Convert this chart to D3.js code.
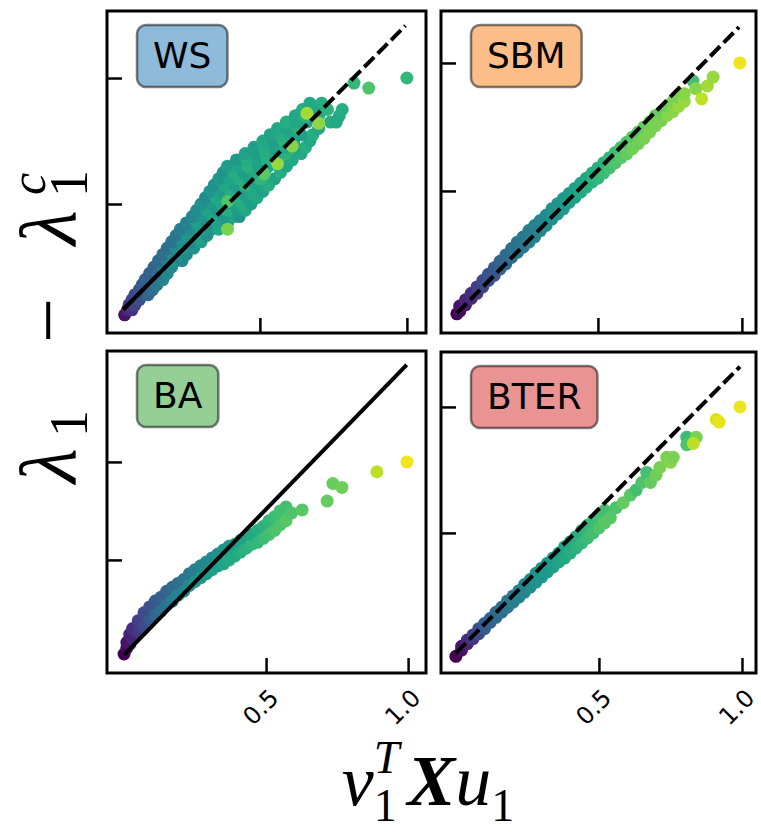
<!DOCTYPE html>
<html><head><meta charset="utf-8">
<script src="https://cdn.jsdelivr.net/npm/d3@7"></script>
<style>body{margin:0;background:#fff}</style>
</head><body>
<svg id="chart" width="761" height="833"></svg>
<script>
// ---------- data (x = v1^T X u1, y = lambda1 - lambda1^c, c = colour value) ----------
const xTicks = [0.5, 1.0];
const xTickLabels = ["0.5", "1.0"];
const yTicks = [0.5, 1.0];
const panelNames = ["WS", "SBM", "BA", "BTER"];

const wsPoints = [
 [0.040,0.060,0.05],
 [0.050,0.080,0.10],[0.065,0.080,0.14],
 [0.055,0.100,0.16],[0.075,0.100,0.20],
 [0.065,0.120,0.20],[0.090,0.120,0.24],
 [0.075,0.140,0.22],[0.100,0.140,0.28],[0.120,0.140,0.32],
 [0.090,0.160,0.26],[0.115,0.160,0.32],[0.135,0.160,0.36],
 [0.100,0.180,0.28],[0.125,0.180,0.34],[0.150,0.180,0.40],
 [0.110,0.200,0.30],[0.140,0.200,0.38],[0.170,0.200,0.44],
 [0.125,0.225,0.30],[0.155,0.225,0.40],[0.185,0.225,0.46],
 [0.140,0.250,0.32],[0.170,0.250,0.42],[0.200,0.250,0.48],
 [0.155,0.275,0.34],[0.185,0.275,0.44],[0.215,0.275,0.50],[0.235,0.275,0.46],
 [0.170,0.300,0.36],[0.200,0.300,0.46],[0.230,0.300,0.52],[0.250,0.300,0.48],
 [0.185,0.325,0.36],[0.215,0.325,0.48],[0.245,0.325,0.54],[0.275,0.325,0.50],
 [0.200,0.350,0.38],[0.235,0.350,0.50],[0.265,0.350,0.46],[0.300,0.350,0.56],
 [0.215,0.375,0.40],[0.250,0.375,0.52],[0.285,0.375,0.58],[0.320,0.375,0.50],
 [0.230,0.400,0.42],[0.265,0.400,0.48],[0.300,0.400,0.56],[0.335,0.400,0.52],[0.360,0.400,0.60],
 [0.250,0.425,0.44],[0.285,0.425,0.56],[0.320,0.425,0.50],[0.355,0.425,0.58],[0.390,0.425,0.54],
 [0.270,0.450,0.46],[0.305,0.450,0.52],[0.340,0.450,0.60],[0.375,0.450,0.54],[0.410,0.450,0.58],[0.430,0.450,0.52],
 [0.285,0.475,0.48],[0.320,0.475,0.58],[0.355,0.475,0.52],[0.390,0.475,0.62],[0.425,0.475,0.55],[0.450,0.475,0.60],
 [0.300,0.500,0.50],[0.335,0.500,0.54],[0.370,0.500,0.60],[0.405,0.500,0.56],[0.440,0.500,0.62],[0.470,0.500,0.56],
 [0.315,0.525,0.48],[0.350,0.525,0.60],[0.385,0.525,0.55],[0.420,0.525,0.64],[0.455,0.525,0.57],[0.490,0.525,0.60],
 [0.330,0.550,0.52],[0.365,0.550,0.56],[0.400,0.550,0.62],[0.435,0.550,0.55],[0.470,0.550,0.60],[0.510,0.550,0.58],
 [0.345,0.575,0.50],[0.380,0.575,0.60],[0.415,0.575,0.56],[0.450,0.575,0.64],[0.485,0.575,0.58],[0.530,0.575,0.62],
 [0.360,0.600,0.54],[0.395,0.600,0.58],[0.430,0.600,0.62],[0.465,0.600,0.56],[0.500,0.600,0.66],[0.550,0.600,0.58],
 [0.375,0.625,0.52],[0.410,0.625,0.62],[0.445,0.625,0.56],[0.480,0.625,0.60],[0.515,0.625,0.56],[0.570,0.625,0.62],
 [0.390,0.650,0.56],[0.425,0.650,0.58],[0.460,0.650,0.64],[0.495,0.650,0.56],[0.530,0.650,0.60],[0.565,0.650,0.62],[0.590,0.650,0.58],
 [0.420,0.675,0.54],[0.455,0.675,0.62],[0.490,0.675,0.58],[0.525,0.675,0.64],[0.560,0.675,0.56],[0.610,0.675,0.60],
 [0.450,0.700,0.58],[0.485,0.700,0.56],[0.520,0.700,0.62],[0.555,0.700,0.58],[0.590,0.700,0.64],[0.640,0.700,0.60],
 [0.480,0.725,0.56],[0.515,0.725,0.62],[0.550,0.725,0.58],[0.585,0.725,0.60],[0.620,0.725,0.56],[0.655,0.725,0.62],
 [0.510,0.750,0.60],[0.545,0.750,0.56],[0.580,0.750,0.64],[0.615,0.750,0.58],[0.670,0.750,0.60],
 [0.535,0.775,0.58],[0.570,0.775,0.62],[0.605,0.775,0.60],[0.640,0.775,0.56],[0.680,0.775,0.62],
 [0.560,0.800,0.60],[0.595,0.800,0.58],[0.630,0.800,0.64],[0.700,0.800,0.60],
 [0.590,0.825,0.62],[0.625,0.825,0.60],[0.660,0.825,0.58],[0.740,0.825,0.62],[0.760,0.825,0.60],
 [0.620,0.850,0.60],[0.655,0.850,0.64],[0.700,0.850,0.62],[0.770,0.850,0.60],
 [0.645,0.875,0.62],[0.690,0.875,0.60],[0.730,0.875,0.64],[0.780,0.875,0.62],
 [0.670,0.900,0.60],[0.710,0.900,0.62],
 [0.390,0.510,0.72],[0.560,0.660,0.84],[0.610,0.730,0.82],[0.390,0.400,0.80],[0.700,0.820,0.83],
 [0.660,0.860,0.86],[0.515,0.620,0.74],
 [0.820,0.980,0.66],[0.870,0.960,0.72],[1.000,1.000,0.66]
];

const sbmPoints = [
 [0.01,0.02,0.0],[0.02,0.03,0.03],[0.02,0.05,0.05],[0.04,0.055,0.08],[0.04,0.075,0.1],
 [0.06,0.08,0.12],[0.06,0.10,0.14],[0.08,0.10,0.16],[0.08,0.125,0.18],[0.10,0.125,0.2],[0.10,0.15,0.22],
 [0.12,0.15,0.24],[0.12,0.175,0.25],[0.14,0.17,0.27],[0.14,0.20,0.28],[0.16,0.195,0.3],[0.16,0.225,0.31],
 [0.18,0.215,0.33],[0.18,0.25,0.34],[0.20,0.24,0.35],[0.20,0.275,0.36],[0.22,0.26,0.38],[0.22,0.30,0.38],
 [0.24,0.28,0.4],[0.24,0.32,0.4],[0.26,0.30,0.42],[0.26,0.345,0.42],[0.28,0.32,0.44],[0.28,0.365,0.44],
 [0.30,0.345,0.46],[0.30,0.385,0.46],[0.32,0.365,0.48],[0.32,0.405,0.48],[0.34,0.39,0.5],[0.34,0.43,0.5],
 [0.36,0.41,0.52],[0.36,0.45,0.52],[0.38,0.43,0.54],[0.38,0.47,0.54],[0.40,0.455,0.56],[0.40,0.49,0.55],
 [0.42,0.475,0.58],[0.42,0.51,0.57],[0.44,0.495,0.6],[0.44,0.53,0.58],[0.46,0.515,0.62],[0.46,0.55,0.6],
 [0.48,0.535,0.64],[0.48,0.57,0.62],[0.50,0.55,0.66],[0.50,0.59,0.63],[0.52,0.57,0.68],[0.52,0.61,0.64],
 [0.54,0.59,0.7],[0.54,0.63,0.66],[0.56,0.61,0.72],[0.56,0.65,0.68],[0.58,0.63,0.74],[0.58,0.67,0.7],
 [0.60,0.645,0.76],[0.60,0.69,0.72],[0.62,0.665,0.78],[0.62,0.71,0.74],[0.64,0.685,0.78],[0.64,0.73,0.74],
 [0.66,0.705,0.8],[0.66,0.75,0.76],[0.68,0.73,0.8],[0.68,0.77,0.78],[0.70,0.755,0.8],[0.70,0.795,0.78],
 [0.72,0.775,0.8],[0.72,0.81,0.76],[0.74,0.795,0.82],[0.74,0.83,0.78],[0.76,0.81,0.82],[0.76,0.85,0.8],
 [0.78,0.83,0.84],[0.78,0.865,0.8],[0.80,0.85,0.84],[0.80,0.88,0.82],
 [0.83,0.93,0.7],[0.84,0.90,0.82],[0.86,0.86,0.9],[0.88,0.91,0.86],[0.90,0.945,0.84],[0.993,1.0,0.97]
];

const baPoints = [
 [0.00,0.02,0.0],[0.01,0.05,0.03],[0.01,0.08,0.05],[0.02,0.07,0.06],[0.02,0.12,0.1],
 [0.03,0.10,0.1],[0.03,0.15,0.14],[0.05,0.13,0.16],[0.05,0.19,0.18],[0.07,0.16,0.22],[0.07,0.23,0.22],
 [0.09,0.19,0.28],[0.09,0.26,0.25],[0.11,0.22,0.32],[0.11,0.29,0.28],[0.13,0.24,0.36],[0.13,0.31,0.3],
 [0.15,0.27,0.38],[0.15,0.34,0.32],[0.17,0.29,0.42],[0.17,0.36,0.34],[0.19,0.32,0.44],[0.19,0.38,0.36],
 [0.21,0.34,0.46],[0.21,0.40,0.38],[0.23,0.37,0.48],[0.23,0.43,0.4],[0.25,0.39,0.5],[0.25,0.45,0.42],
 [0.27,0.41,0.52],[0.27,0.47,0.45],[0.29,0.43,0.54],[0.29,0.49,0.47],[0.31,0.45,0.56],[0.31,0.51,0.49],
 [0.33,0.47,0.56],[0.33,0.53,0.5],[0.35,0.48,0.58],[0.35,0.55,0.52],[0.37,0.50,0.6],[0.37,0.57,0.53],
 [0.39,0.52,0.6],[0.39,0.58,0.55],[0.41,0.54,0.62],[0.41,0.60,0.56],[0.43,0.56,0.64],[0.43,0.61,0.58],
 [0.45,0.58,0.66],[0.45,0.63,0.6],[0.47,0.59,0.66],[0.47,0.65,0.62],[0.49,0.61,0.68],[0.49,0.67,0.64],
 [0.51,0.63,0.7],[0.51,0.70,0.66],[0.53,0.65,0.72],[0.53,0.72,0.68],[0.55,0.68,0.72],[0.55,0.75,0.7],
 [0.57,0.70,0.74],[0.57,0.77,0.7],[0.59,0.74,0.72],[0.627,0.755,0.74],[0.715,0.80,0.76],
 [0.735,0.89,0.77],[0.767,0.87,0.78],[0.89,0.95,0.9],[0.996,1.0,0.98]
];

const bterPoints = [
 [0.00,0.01,0.0],[0.02,0.035,0.04],[0.02,0.05,0.06],[0.04,0.06,0.1],[0.04,0.075,0.12],
 [0.06,0.08,0.16],[0.06,0.095,0.18],[0.08,0.10,0.22],[0.08,0.12,0.24],[0.10,0.12,0.28],[0.10,0.14,0.28],
 [0.12,0.145,0.3],[0.12,0.16,0.32],[0.14,0.165,0.34],[0.14,0.185,0.34],[0.16,0.185,0.36],[0.16,0.205,0.37],
 [0.18,0.205,0.4],[0.18,0.23,0.4],[0.20,0.225,0.42],[0.20,0.25,0.42],[0.22,0.245,0.44],[0.22,0.27,0.44],
 [0.24,0.265,0.46],[0.24,0.295,0.46],[0.26,0.285,0.48],[0.26,0.315,0.48],[0.28,0.305,0.5],[0.28,0.34,0.5],
 [0.30,0.325,0.52],[0.30,0.36,0.52],[0.32,0.345,0.54],[0.32,0.38,0.53],[0.34,0.365,0.56],[0.34,0.40,0.55],
 [0.36,0.385,0.58],[0.36,0.42,0.56],[0.38,0.40,0.6],[0.38,0.445,0.58],[0.40,0.42,0.62],[0.40,0.465,0.6],
 [0.42,0.44,0.64],[0.42,0.485,0.62],[0.44,0.46,0.66],[0.44,0.51,0.64],[0.46,0.48,0.68],[0.46,0.53,0.66],
 [0.48,0.50,0.7],[0.48,0.55,0.68],[0.50,0.52,0.72],[0.50,0.57,0.7],[0.52,0.54,0.74],[0.52,0.59,0.7],
 [0.54,0.56,0.74],[0.56,0.60,0.72],[0.585,0.62,0.76],[0.61,0.65,0.74],[0.63,0.67,0.7],[0.65,0.70,0.72],
 [0.667,0.74,0.7],[0.68,0.70,0.76],[0.70,0.73,0.78],[0.713,0.76,0.8],[0.737,0.80,0.8],[0.75,0.78,0.82],
 [0.76,0.80,0.8],[0.807,0.88,0.68],[0.807,0.85,0.72],[0.84,0.88,0.8],[0.83,0.855,0.9],[0.91,0.95,0.94],
 [0.92,0.94,0.96],[0.993,1.0,0.97]
];

// reference lines (endpoints in data units)
const wsDashed = [[0.035,0.081],[0.995,1.208]];
const wsSolid = [[0.035,0.081],[0.33,0.427]];
const sbmDashed = [[0.01,0.022],[0.99,1.14]];
const baSolid = [[0.0,0.015],[0.995,1.495]];
const bterDashed = [[0.0,0.023],[0.993,1.16]];

// ---------- layout ----------
const panels = [
 {name: panelNames[0], pts: wsPoints, dashed: wsDashed, solid: wsSolid, fill: "#8fbbda",
  rect: [107, 11, 426, 333], xd: [-0.020, 1.065], yd: [-0.012, 1.266], labels: false},
 {name: panelNames[1], pts: sbmPoints, dashed: sbmDashed, solid: null, fill: "#fdbd88",
  rect: [441, 11, 756, 333], xd: [-0.045, 1.049], yd: [-0.055, 1.203], labels: false},
 {name: panelNames[2], pts: baPoints, dashed: null, solid: baSolid, fill: "#95cf95",
  rect: [107, 351, 426, 673], xd: [-0.060, 1.063], yd: [-0.077, 1.566], labels: true},
 {name: panelNames[3], pts: bterPoints, dashed: bterDashed, solid: null, fill: "#ea9393",
  rect: [441, 352, 756, 673], xd: [-0.052, 1.049], yd: [-0.056, 1.218], labels: true}
];

const svg = d3.select("#chart");
svg.append("rect").attr("width", 761).attr("height", 833).attr("fill", "#fff");

panels.forEach(p => {
  const [x0, y0, x1, y1] = p.rect;
  const x = d3.scaleLinear().domain(p.xd).range([x0, x1]);
  const y = d3.scaleLinear().domain(p.yd).range([y1, y0]);
  const g = svg.append("g");

  g.append("g").selectAll("circle").data(p.pts).join("circle")
    .attr("cx", d => x(d[0])).attr("cy", d => y(d[1])).attr("r", 6.5)
    .attr("fill", d => d3.interpolateViridis(d[2]));

  const line = d3.line().x(d => x(d[0])).y(d => y(d[1]));
  if (p.solid) g.append("path").attr("d", line(p.solid)).attr("fill", "none")
     .attr("stroke", "#000").attr("stroke-width", 4);
  if (p.dashed) g.append("path").attr("d", line(p.dashed)).attr("fill", "none")
     .attr("stroke", "#000").attr("stroke-width", 4).attr("stroke-dasharray", "14,5");

  // axes: inward ticks
  const ax = g.append("g").attr("transform", `translate(0,${y1})`)
    .call(d3.axisBottom(x).tickValues(xTicks).tickSizeInner(-15).tickSizeOuter(0)
      .tickFormat((d, i) => xTickLabels[i]));
  ax.select(".domain").remove();
  ax.selectAll("line").attr("stroke", "#000").attr("stroke-width", 2.5);
  if (p.labels) {
    ax.selectAll("text").attr("y", 0).attr("dy", "0.35em")
      .attr("transform", "translate(-6,34) rotate(-45)")
      .attr("text-anchor", "middle").attr("fill", "#000")
      .style("font-family", "DejaVu Sans").style("font-size", "24px");
  } else {
    ax.selectAll("text").remove();
  }
  const ay = g.append("g").attr("transform", `translate(${x0},0)`)
    .call(d3.axisLeft(y).tickValues(yTicks).tickSizeInner(-15).tickSizeOuter(0).tickFormat(""));
  ay.select(".domain").remove();
  ay.selectAll("line").attr("stroke", "#000").attr("stroke-width", 2.5);

  g.append("rect").attr("x", x0).attr("y", y0).attr("width", x1 - x0).attr("height", y1 - y0)
    .attr("fill", "none").attr("stroke", "#000").attr("stroke-width", 3);

  // label box
  const lg = g.append("g");
  const t = lg.append("text").text(p.name).attr("font-family", "DejaVu Sans")
    .attr("font-size", 36).attr("fill", "#000");
  const tw = t.node().getComputedTextLength();
  const bx = x0 + 30, by = y0 + 14, bw = tw + 32, bh = 62;
  lg.insert("rect", "text").attr("x", bx).attr("y", by).attr("width", bw).attr("height", bh)
    .attr("rx", 9).attr("fill", p.fill).attr("stroke", "rgba(0,0,0,0.5)").attr("stroke-width", 2.5);
  t.attr("x", bx + 16).attr("y", by + bh / 2 + 12);
});

// axis titles: y label built from separate glyph pieces in a rotated group
const yg = svg.append("g").attr("transform", "translate(75,483) rotate(-90)")
  .attr("font-family", "Liberation Serif").attr("fill", "#000");
const yParts = [
  {t: "λ", x: 0, y: 0, s: 80, it: true},
  {t: "1", x: 46, y: 12, s: 54, it: false},
  {t: "−", x: 140, y: 0, s: 80, it: false},
  {t: "λ", x: 238, y: 0, s: 80, it: true},
  {t: "1", x: 286, y: 12, s: 54, it: false},
  {t: "c", x: 288, y: -30, s: 50, it: true}
];
yParts.forEach(d => yg.append("text").attr("x", d.x).attr("y", d.y).attr("font-size", d.s)
  .attr("font-style", d.it ? "italic" : "normal").text(d.t));

const xl = svg.append("text").attr("x", 428).attr("y", 805)
  .attr("text-anchor", "middle").attr("font-family", "Liberation Serif").attr("font-size", 72).attr("fill", "#000");
xl.append("tspan").attr("font-style", "italic").text("v");
xl.append("tspan").attr("dy", 16).attr("font-size", 46).text("1");
xl.append("tspan").attr("dx", -23).attr("dy", -48).attr("font-size", 46).attr("font-style", "italic").text("T");
xl.append("tspan").attr("dy", 32).attr("dx", 8).attr("font-weight", "bold").attr("font-style", "italic").text("X");
xl.append("tspan").attr("font-style", "italic").text("u");
xl.append("tspan").attr("dy", 16).attr("font-size", 46).text("1");
</script>
</body></html>
